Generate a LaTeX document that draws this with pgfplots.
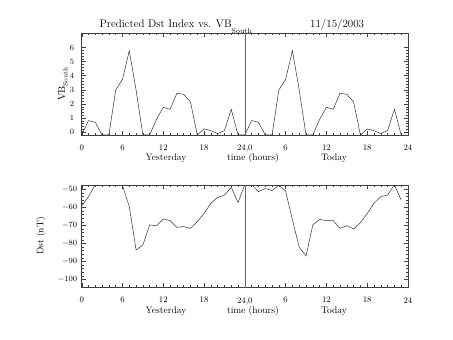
\documentclass[border=0pt]{standalone}
\usepackage{fontspec}
\usepackage{pgfplots}
\usepackage{pgfplotstable}
\pgfplotsset{compat=1.18}

\pgfplotstableread{
h vb
0 -0.2
1 0.82
2 0.70
3 -0.2
4 -0.2
5 2.98
6 3.74
7 5.77
8 2.98
9 -0.2
10 -0.2
11 0.91
12 1.76
13 1.62
14 2.75
15 2.68
16 2.14
17 -0.2
18 0.23
19 0.11
20 -0.1
21 0.11
22 1.62
23 -0.2
24 -0.2
25 0.82
26 0.70
27 -0.2
28 -0.2
29 2.98
30 3.74
31 5.77
32 2.98
33 -0.2
34 -0.2
35 0.91
36 1.76
37 1.62
38 2.75
39 2.68
40 2.14
41 -0.2
42 0.23
43 0.11
44 -0.1
45 0.11
46 1.62
47 -0.2
}\vbdata

\pgfplotstableread{
h dst
0 -59.3
1 -54.1
2 -47.5
3 -47.5
4 -45
5 -45
6 -48
7 -59.6
8 -83.7
9 -80.9
10 -69.8
11 -70.2
12 -66.5
13 -67.4
14 -71.1
15 -70.7
16 -71.7
17 -68.0
18 -63.4
19 -57.8
20 -54.5
21 -53.2
22 -48.9
23 -57.4
24 -47.5
25 -47.5
26 -51.3
27 -49.6
28 -50.7
29 -47.8
30 -51.0
31 -67.0
32 -82.2
33 -87.0
34 -69.8
35 -66.7
36 -67.4
37 -67.4
38 -71.7
39 -70.2
40 -72.0
41 -68.5
42 -63.4
43 -57.8
44 -54.1
45 -53.2
46 -47.5
47 -56.0
}\dstdata

\pgfplotsset{
  idl/.style={
    scale only axis,
    anchor=south west,
    width=326.3pt,
    xmin=0, xmax=48,
    xtick={0,6,...,48},
    xticklabels={0,6,12,18,{24,0},6,12,18,24},
    minor x tick num=5,
    tick align=inside,
    major tick length=4pt,
    minor tick length=2pt,
    axis line style={black!75, line width=0.5pt},
    every tick/.style={black!75, line width=0.4pt},
    tick label style={font=\fontsize{8.5}{9}\selectfont},
    xticklabel style={yshift=-6.5pt},
    axis background/.style={fill=white},
  }
}

\begin{document}
\begin{tikzpicture}[x=1pt,y=1pt]
\useasboundingbox (0pt,0pt) rectangle (453pt,340pt);

\begin{axis}[idl,
  at={(81.7pt,205pt)},
  height=101.7pt,
  ymin=-0.2, ymax=7,
  ytick={0,1,...,6},
  minor y tick num=4,
  yticklabel style={xshift=-4pt},
]
\addplot[black!80, line width=0.5pt, mark=none] table[x=h, y=vb] {\vbdata};
\addplot[black!60, line width=0.4pt, mark=none] coordinates {(24,-1) (24,8)};
\end{axis}

\begin{axis}[idl,
  at={(81.7pt,52.7pt)},
  height=102pt,
  ymin=-104.4, ymax=-47.8,
  ytick={-100,-90,...,-50},
  minor y tick num=4,
  yticklabel style={xshift=-1pt},
]
\addplot[black!80, line width=0.5pt, mark=none] table[x=h, y=dst] {\dstdata};
\addplot[black!60, line width=0.4pt, mark=none] coordinates {(24,-120) (24,-30)};
\end{axis}

% title
\node[anchor=base west, inner sep=0pt] at (99.3pt,312pt) {\fontsize{11}{13}\selectfont\addfontfeature{LetterSpace=13}Predicted Dst Index vs. VB\raisebox{-5.5pt}{\fontsize{7}{8}\selectfont\addfontfeature{LetterSpace=5}South}};
\node[anchor=base west, inner sep=0pt] at (310pt,312pt) {\fontsize{11}{13}\selectfont\addfontfeature{LetterSpace=13}11/15/2003};

% y labels
\node[rotate=90, anchor=center, inner sep=0pt] at (63pt,256pt) {\fontsize{10}{11}\selectfont\addfontfeature{LetterSpace=8}VB\raisebox{-2.5pt}{\fontsize{6.5}{7}\selectfont South}};
\node[rotate=90, anchor=center, inner sep=0pt] at (41pt,104pt) {\fontsize{9.5}{10}\selectfont\addfontfeature{LetterSpace=8}Dst (nT)};

% x labels, top panel
\node[anchor=center, inner sep=0pt] at (166pt,182pt) {\fontsize{9.5}{11}\selectfont\addfontfeature{LetterSpace=10}Yesterday};
\node[anchor=center, inner sep=0pt] at (253pt,182pt) {\fontsize{9.5}{11}\selectfont\addfontfeature{LetterSpace=10}time (hours)};
\node[anchor=center, inner sep=0pt] at (334pt,182pt) {\fontsize{9.5}{11}\selectfont\addfontfeature{LetterSpace=10}Today};

% x labels, bottom panel
\node[anchor=center, inner sep=0pt] at (166pt,29.3pt) {\fontsize{9.5}{11}\selectfont\addfontfeature{LetterSpace=10}Yesterday};
\node[anchor=center, inner sep=0pt] at (253pt,29.3pt) {\fontsize{9.5}{11}\selectfont\addfontfeature{LetterSpace=10}time (hours)};
\node[anchor=center, inner sep=0pt] at (334pt,29.3pt) {\fontsize{9.5}{11}\selectfont\addfontfeature{LetterSpace=10}Today};
\end{tikzpicture}
\end{document}
